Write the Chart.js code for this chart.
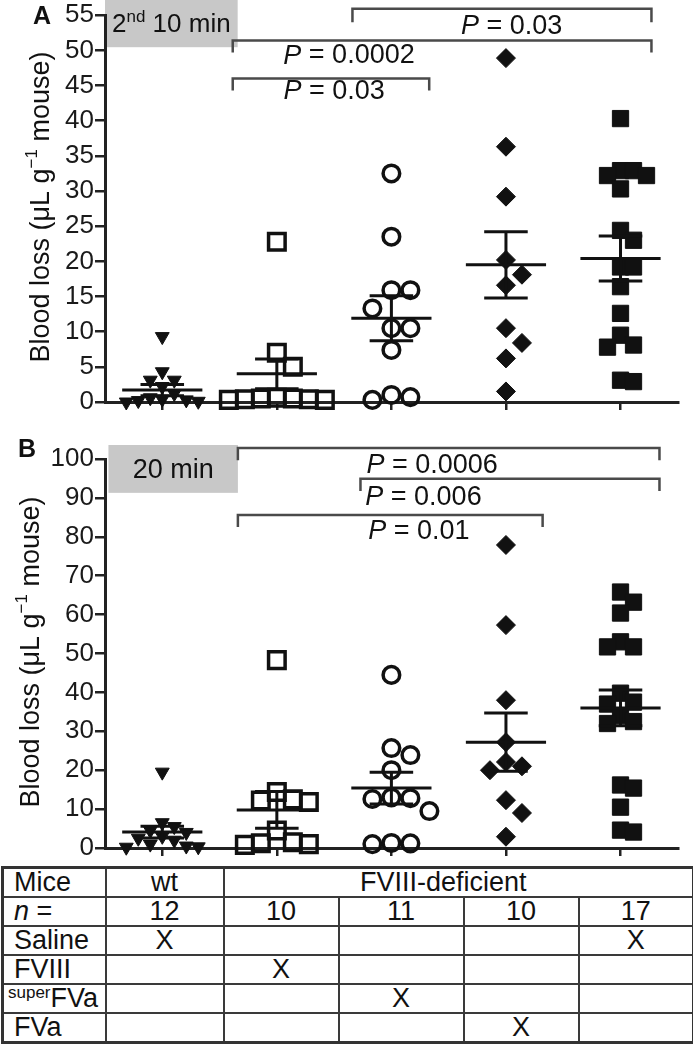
<!DOCTYPE html>
<html>
<head>
<meta charset="utf-8">
<script src="https://cdn.jsdelivr.net/npm/chart.js@4.4.1/dist/chart.umd.min.js"></script>
<style>
body { margin: 0; background: #fff; width: 693px; height: 1050px; position: relative; overflow: hidden; font-family: "Liberation Sans", Arial, sans-serif; }
canvas { position: absolute; left: 0; }
#cA { top: 0; }
#cB { top: 420px; }
table { position: absolute; left: 1px; top: 866px; width: 691px; border-collapse: collapse; border: 3px solid #333; font-size: 27px; color: #111; table-layout: fixed; }
td { border: 2.5px solid #3a3a3a; height: 27px; padding: 0; line-height: 27px; text-align: center; white-space: nowrap; overflow: hidden; }
td.h { text-align: left; padding-left: 10px; }
td.sp { padding-left: 4px; }
sup { font-size: 17px; vertical-align: 9px; line-height: 0; }
</style>
</head>
<body>
<canvas id="cA" width="693" height="420"></canvas>
<canvas id="cB" width="693" height="445"></canvas>
<table id="tbl"></table>
<script>
// groups, left to right
var groupNames = ['wt', 'FVIII', 'superFVa', 'FVa', 'Saline'];
var mouseType = ['wt', 'FVIII-deficient', 'FVIII-deficient', 'FVIII-deficient', 'FVIII-deficient'];
var treatments = ['Saline', 'FVIII', 'superFVa', 'FVa'];
var groupTreatment = ['Saline', 'FVIII', 'superFVa', 'FVa', 'Saline'];

// panel A: 2nd 10 min, blood loss uL/g
var aWt = [9.3, 4.3, 3.1, 3.1, 2.2, 1.2, 0.6, 0.4, 0.3, 0.2, 0.1, 0.0];
var aFviii = [22.8, 7.0, 5.0, 0.6, 0.5, 0.5, 0.4, 0.4, 0.3, 0.3];
var aSuper = [32.5, 23.5, 15.9, 15.9, 13.3, 10.5, 10.5, 7.4, 1.0, 0.7, 0.3];
var aFva = [48.9, 36.3, 29.2, 20.2, 18.1, 16.6, 10.5, 8.4, 6.2, 1.5];
var aSaline = [40.3, 32.9, 32.9, 32.2, 32.2, 30.3, 24.4, 23.0, 19.2, 19.2, 16.4, 12.6, 9.5, 8.1, 7.8, 3.1, 2.9];
var aMean = [1.7, 4.0, 11.9, 19.5, 20.4];
var aSem = [0.8, 2.1, 3.2, 4.7, 3.2];
var aTicks = [0, 5, 10, 15, 20, 25, 30, 35, 40, 45, 50, 55];
var aP = ['0.03', '0.0002', '0.03'];

// panel B: 20 min
var bWt = [19.5, 6.5, 5.5, 4.5, 4.0, 3.0, 2.5, 2.0, 1.0, 0.5, 0.3, 0.2];
var bFviii = [48.3, 14.4, 12.5, 12.2, 11.8, 4.5, 1.5, 1.2, 1.0, 0.8];
var bSuper = [44.5, 25.7, 23.9, 20.0, 13.0, 12.8, 12.6, 9.5, 1.3, 1.2, 1.0];
var bFva = [77.9, 57.3, 38.0, 27.2, 22.1, 21.0, 20.0, 12.3, 9.0, 2.9];
var bSaline = [65.8, 63.2, 60.4, 53.0, 51.7, 51.7, 39.8, 37.5, 37.0, 34.0, 32.5, 32.0, 16.2, 15.4, 10.5, 4.6, 4.1];
var bMean = [4.1, 9.8, 15.4, 27.2, 36.0];
var bSem = [1.5, 4.7, 4.1, 7.5, 4.6];
var bTicks = [0, 10, 20, 30, 40, 50, 60, 70, 80, 90, 100];
var bP = ['0.0006', '0.006', '0.01'];

// marker look per group
var markStyle = ['triangle', 'rect', 'circle', 'rectRot', 'rect'];
var markRot = [180, 0, 0, 0, 0];
var markFilled = [true, false, false, true, true];
var markRadius = [8, 11.7, 8.3, 9.5, 11.5];
var markBorder = [1, 3.5, 3.5, 1, 1];
var markGap = [12, 16, 19, 16, 13];

var FONT = '"Liberation Sans", Arial, sans-serif';
var INK = '#111';

function drawSegs(ctx, segs, x, y, align) {
  var w = 0;
  segs.forEach(function(s) { ctx.font = s[3] + s[1] + 'px ' + FONT; w += ctx.measureText(s[0]).width; });
  var cx = align === 'center' ? x - w / 2 : x;
  ctx.textAlign = 'left';
  segs.forEach(function(s) {
    ctx.font = s[3] + s[1] + 'px ' + FONT;
    ctx.fillText(s[0], cx, y + s[2]);
    cx += ctx.measureText(s[0]).width;
  });
}

function panel(id, cfg) {
  var deco = {
    id: 'deco',
    beforeDraw: function(chart) {
      var sx = chart.scales.x, sy = chart.scales.y, ctx = chart.ctx;
      var b = cfg.box;
      var x1 = sx.getPixelForValue(b.x1), x2 = sx.getPixelForValue(b.x2);
      var y1 = sy.getPixelForValue(b.y2), y2 = sy.getPixelForValue(b.y1);
      ctx.save();
      ctx.fillStyle = '#c8c8c8';
      ctx.fillRect(x1, y1, x2 - x1, y2 - y1);
      ctx.fillStyle = INK;
      ctx.textBaseline = 'alphabetic';
      drawSegs(ctx, b.text, (x1 + x2) / 2, y2 - 15, 'center');
      ctx.restore();
    },
    afterDatasetsDraw: function(chart) {
      var sx = chart.scales.x, sy = chart.scales.y, ctx = chart.ctx;
      ctx.save();
      ctx.strokeStyle = INK;
      ctx.lineWidth = 3;
      cfg.mean.forEach(function(m, i) {
        var l = sx.getPixelForValue(i + 1 - 0.35), r = sx.getPixelForValue(i + 1 + 0.35);
        var cl = sx.getPixelForValue(i + 1 - 0.19), cr = sx.getPixelForValue(i + 1 + 0.19);
        var c = sx.getPixelForValue(i + 1);
        var ym = sy.getPixelForValue(m), yt = sy.getPixelForValue(m + cfg.sem[i]), yb = sy.getPixelForValue(Math.max(0, m - cfg.sem[i]));
        ctx.beginPath();
        ctx.moveTo(l, ym); ctx.lineTo(r, ym);
        ctx.moveTo(cl, yt); ctx.lineTo(cr, yt);
        ctx.moveTo(cl, yb); ctx.lineTo(cr, yb);
        ctx.moveTo(c, yt); ctx.lineTo(c, yb);
        ctx.stroke();
      });
      ctx.restore();
    },
    afterDraw: function(chart) {
      var sx = chart.scales.x, sy = chart.scales.y, ctx = chart.ctx;
      ctx.save();
      // significance brackets
      ctx.strokeStyle = '#4a4a4a';
      ctx.lineWidth = 2.5;
      cfg.brackets.forEach(function(k, i) {
        var x1 = sx.getPixelForValue(k.from), x2 = sx.getPixelForValue(k.to);
        var y = sy.getPixelForValue(k.y), yd = sy.getPixelForValue(k.y - k.drop);
        ctx.beginPath();
        ctx.moveTo(x1, yd); ctx.lineTo(x1, y); ctx.lineTo(x2, y); ctx.lineTo(x2, yd);
        ctx.stroke();
        ctx.fillStyle = INK;
        ctx.textBaseline = 'middle';
        drawSegs(ctx, [['P', 27, 0, 'italic '], [' = ' + cfg.p[i], 27, 0, '']],
          sx.getPixelForValue(k.lx), sy.getPixelForValue(k.ly), 'center');
      });
      // axis title
      ctx.fillStyle = INK;
      ctx.textBaseline = 'middle';
      ctx.translate(cfg.titleX, cfg.titleY);
      ctx.rotate(-Math.PI / 2);
      drawSegs(ctx, [['Blood loss (\u03bcL g', 27, 0, ''], ['\u22121', 17, -10, ''], [' mouse)', 27, 0, '']], 0, 0, 'center');
      ctx.restore();
      ctx.save();
      ctx.fillStyle = INK;
      ctx.font = 'bold 25px ' + FONT;
      ctx.textBaseline = 'alphabetic';
      ctx.fillText(cfg.letter, cfg.letterX, cfg.letterY);
      ctx.restore();
    }
  };

  var chart = new Chart(document.getElementById(id), {
    type: 'scatter',
    data: {
      datasets: cfg.groups.map(function(vals, i) {
        return {
          label: groupNames[i],
          data: vals.map(function(v) { return { x: i + 1, y: v }; }),
          pointStyle: markStyle[i],
          rotation: markRot[i],
          pointRadius: markRadius[i],
          pointBorderWidth: markBorder[i],
          pointBorderColor: INK,
          pointBackgroundColor: markFilled[i] ? INK : 'rgba(0,0,0,0)',
          clip: false
        };
      })
    },
    options: {
      responsive: false,
      animation: false,
      events: [],
      layout: { padding: { top: cfg.padTop, right: 3, left: 0, bottom: 0 } },
      plugins: { legend: { display: false }, tooltip: { enabled: false } },
      scales: {
        x: {
          type: 'linear', min: 0.5, max: 5.5,
          afterBuildTicks: function(s) { s.ticks = groupNames.map(function(g, i) { return { value: i + 1 }; }); },
          ticks: { display: false },
          grid: { drawOnChartArea: false, drawTicks: true, tickLength: 8, color: '#222', lineWidth: 2.5 },
          border: { color: '#222', width: 3 },
          afterFit: function(s) { s.height = cfg.xHeight; }
        },
        y: {
          min: 0, max: cfg.ticks[cfg.ticks.length - 1],
          afterBuildTicks: function(s) { s.ticks = cfg.ticks.map(function(v) { return { value: v }; }); },
          ticks: { font: { family: FONT, size: 26, lineHeight: 1 }, color: '#1a1a1a', padding: 1 },
          grid: { drawOnChartArea: false, tickLength: 10, color: '#222', lineWidth: 2.5 },
          border: { color: '#222', width: 3 },
          afterFit: function(s) { s.width = 105; }
        }
      }
    },
    plugins: [deco]
  });

  // spread overlapping points sideways (simple beeswarm)
  var sx = chart.scales.x, sy = chart.scales.y;
  cfg.groups.forEach(function(vals, i) {
    var cx = sx.getPixelForValue(i + 1), g = markGap[i], placed = [];
    chart.data.datasets[i].data = vals.map(function(v) {
      var py = sy.getPixelForValue(v), px = cx;
      for (var k = 0; k < 40; k++) {
        var o = (k % 2 === 1 ? 1 : -1) * Math.ceil(k / 2) * g;
        var hit = placed.some(function(p) { return Math.hypot(p[0] - (cx + o), p[1] - py) < g; });
        if (!hit) { px = cx + o; break; }
      }
      placed.push([px, py]);
      return { x: sx.getValueForPixel(px), y: v };
    });
  });
  chart.update('none');
  return chart;
}

panel('cA', {
  groups: [aWt, aFviii, aSuper, aFva, aSaline],
  mean: aMean, sem: aSem, ticks: aTicks, p: aP,
  padTop: 15, xHeight: 18,
  box: { x1: 0.5, x2: 1.658, y1: 50.45, y2: 57.2, text: [['2', 26, 0, ''], ['nd', 17, -10, ''], [' 10 min', 26, 0, '']] },
  brackets: [
    { from: 2.66, to: 5.27, y: 55.9, drop: 1.9, lx: 4.05, ly: 53.4 },
    { from: 1.615, to: 5.27, y: 51.4, drop: 1.7, lx: 2.63, ly: 49.2 },
    { from: 1.615, to: 3.33, y: 46.0, drop: 1.7, lx: 2.5, ly: 44.2 }
  ],
  titleX: 42, titleY: 207, letter: 'A', letterX: 33, letterY: 24
});

panel('cB', {
  groups: [bWt, bFviii, bSuper, bFva, bSaline],
  mean: bMean, sem: bSem, ticks: bTicks, p: bP,
  padTop: 39, xHeight: 17,
  box: { x1: 0.53, x2: 1.66, y1: 91.3, y2: 103.6, text: [['20 min', 27, 0, '']] },
  brackets: [
    { from: 1.66, to: 5.34, y: 102.8, drop: 3.1, lx: 3.355, ly: 98.3 },
    { from: 2.73, to: 5.34, y: 94.9, drop: 3.1, lx: 3.28, ly: 90.1 },
    { from: 1.66, to: 4.32, y: 85.6, drop: 3.1, lx: 3.24, ly: 81.4 }
  ],
  titleX: 32, titleY: 232, letter: 'B', letterX: 18, letterY: 37
});

// treatment table
(function() {
  var tbl = document.getElementById('tbl');
  var widths = [103, 118, 115, 125, 115, 115];
  var html = '<colgroup>' + widths.map(function(w) { return '<col style="width:' + w + 'px">'; }).join('') + '</colgroup>';
  html += '<tr><td class="h">Mice</td><td>' + mouseType[0] + '</td><td colspan="4" style="padding-right:30px">' + mouseType[1] + '</td></tr>';
  var counts = [aWt, aFviii, aSuper, aFva, aSaline].map(function(a) { return a.length; });
  html += '<tr><td class="h"><i>n</i> =</td>' + counts.map(function(n) { return '<td>' + n + '</td>'; }).join('') + '</tr>';
  treatments.forEach(function(t) {
    var label = t === 'superFVa' ? '<sup>super</sup>FVa' : t;
    html += '<tr><td class="h' + (t === 'superFVa' ? ' sp' : '') + '">' + label + '</td>' +
      groupTreatment.map(function(g) { return '<td>' + (g === t ? 'X' : '') + '</td>'; }).join('') + '</tr>';
  });
  tbl.innerHTML = html;
})();
</script>
</body>
</html>
